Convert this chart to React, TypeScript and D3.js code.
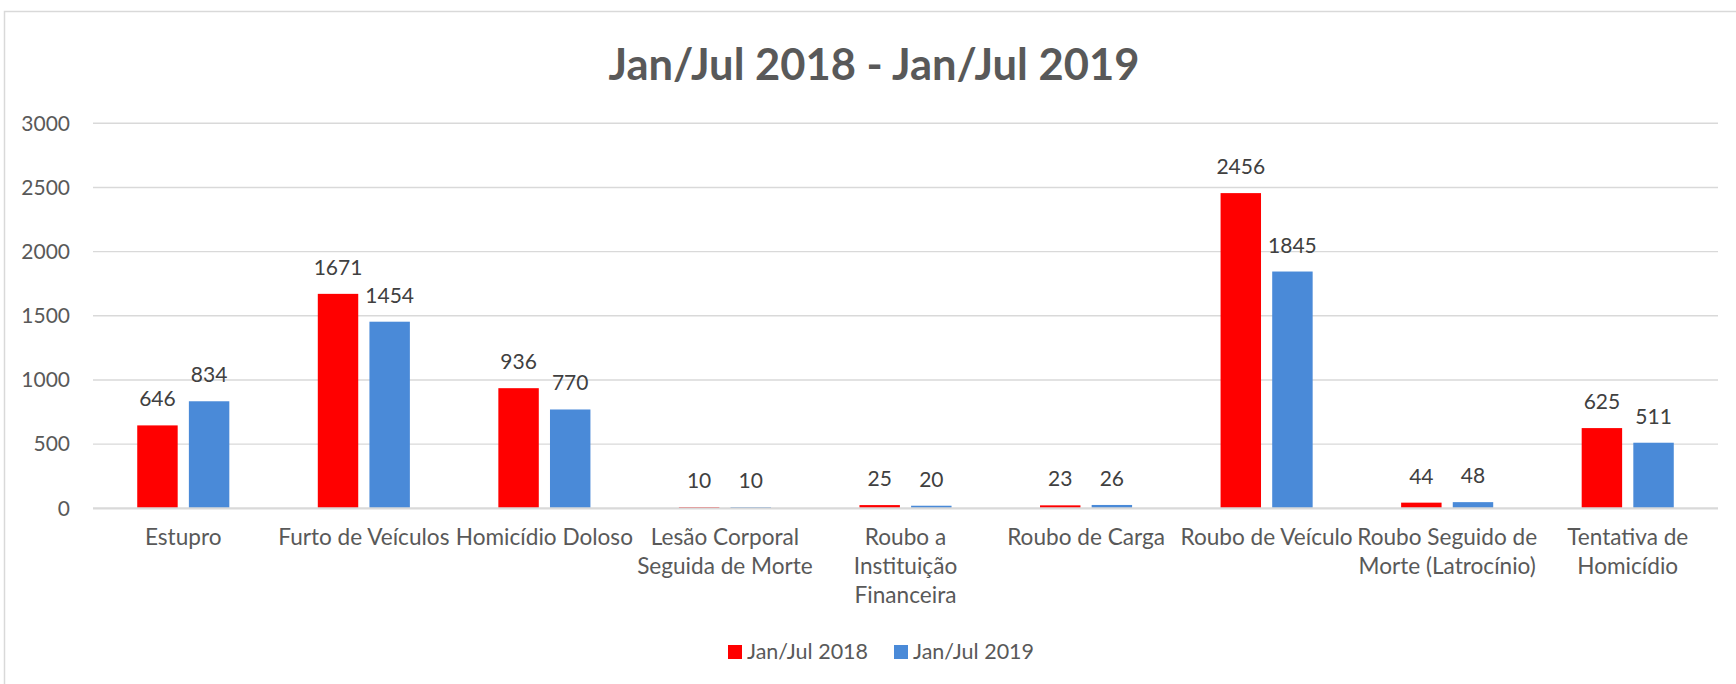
import React from "react";
import * as d3 from "d3";

const title = "Jan/Jul 2018 - Jan/Jul 2019";
const categories = [
  "Estupro",
  "Furto de Veículos",
  "Homicídio Doloso",
  "Lesão Corporal Seguida de Morte",
  "Roubo a Instituição Financeira",
  "Roubo de Carga",
  "Roubo de Veículo",
  "Roubo Seguido de Morte (Latrocínio)",
  "Tentativa de Homicídio",
];
const categoryLines = [
  ["Estupro"],
  ["Furto de Veículos"],
  ["Homicídio Doloso"],
  ["Lesão Corporal", "Seguida de Morte"],
  ["Roubo a", "Instituição", "Financeira"],
  ["Roubo de Carga"],
  ["Roubo de Veículo"],
  ["Roubo Seguido de", "Morte (Latrocínio)"],
  ["Tentativa de", "Homicídio"],
];
const seriesNames = ["Jan/Jul 2018", "Jan/Jul 2019"];
const values2018 = [646, 1671, 936, 10, 25, 23, 2456, 44, 625];
const values2019 = [834, 1454, 770, 10, 20, 26, 1845, 48, 511];
const yTicks = [0, 500, 1000, 1500, 2000, 2500, 3000];
const colors = ["#ff0000", "#4a8ad8"];

const W = 1736;
const H = 684;
const FONT = "Lato, 'Open Sans', sans-serif";

export default function App() {
  const x = d3.scaleBand<string>().domain(categories).range([93, 1718]).padding(0);
  const y = d3.scaleLinear().domain([0, 3000]).range([508.3, 123.3]);
  const band = x.bandwidth();
  const barW = band * 0.224;
  const gap = band * 0.062;
  const series = [values2018, values2019];

  return (
    <div style={{ position: "absolute", left: 0, top: 0, width: W, height: H, overflow: "hidden", background: "#fff" }}>
      <svg width={W} height={H} style={{ display: "block" }} fontFamily={FONT}>
        <rect x={0} y={0} width={W} height={H} fill="#fff" />
        <rect x={4.5} y={11.5} width={1760} height={720} fill="none" stroke="#d9d9d9" strokeWidth={1.5} />
        <text x={874} y={80} textAnchor="middle" fontSize={43.5} fontWeight={700} fill="#595959">
          {title}
        </text>
        {yTicks.map((t) => (
          <g key={t}>
            {t !== 0 && (
              <line x1={93} x2={1718} y1={y(t)} y2={y(t)} stroke="#d9d9d9" strokeWidth={1.4} />
            )}
            <text x={70} y={y(t)} dy="0.35em" textAnchor="end" fontSize={21} fill="#595959">
              {t}
            </text>
          </g>
        ))}
        {categories.map((c, i) => {
          const cx = (x(c) as number) + band / 2;
          return (
            <g key={c}>
              {series.map((vals, s) => {
                const bx = s === 0 ? cx - gap / 2 - barW : cx + gap / 2;
                const v = vals[i];
                return (
                  <g key={s}>
                    <rect x={bx} y={y(v)} width={barW} height={y(0) - y(v)} fill={colors[s]} />
                    <text x={bx + barW / 2} y={y(v) - 19} textAnchor="middle" fontSize={21} fill="#404040">
                      {v}
                    </text>
                  </g>
                );
              })}
              {categoryLines[i].map((ln, k) => (
                <text key={k} x={cx} y={545 + k * 29} textAnchor="middle" fontSize={22.6} fill="#595959">
                  {ln}
                </text>
              ))}
            </g>
          );
        })}
        <line x1={93} x2={1718} y1={y(0)} y2={y(0)} stroke="#d9d9d9" strokeWidth={2.2} />
        {seriesNames.map((n, s) => {
          const lx = s === 0 ? 728 : 894;
          return (
            <g key={n}>
              <rect x={lx} y={645} width={14} height={14} fill={colors[s]} />
              <text x={lx + 19} y={659} fontSize={21.5} fill="#595959">
                {n}
              </text>
            </g>
          );
        })}
      </svg>
    </div>
  );
}
